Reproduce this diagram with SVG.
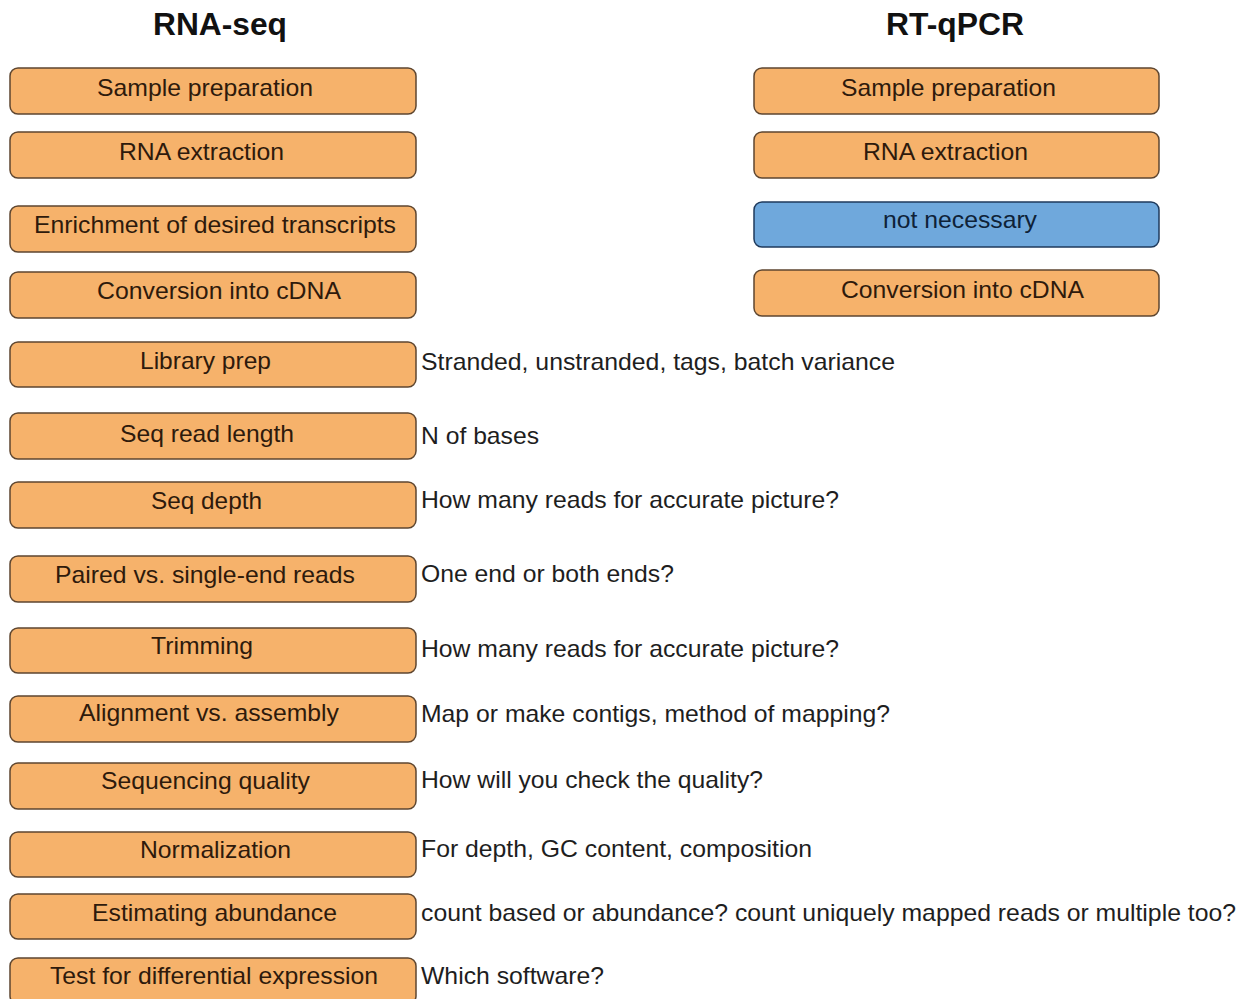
<svg xmlns="http://www.w3.org/2000/svg" width="1251" height="999" viewBox="0 0 1251 999">
<style>
.bg{fill:#ffffff}
.o{fill:#f6b26b;stroke:#5e4630;stroke-width:1.5}
.b{fill:#6fa8dc;stroke:#1f3a5c;stroke-width:1.5}
.t{font-family:"Liberation Sans",Arial,sans-serif;font-size:24px;fill:#2e1a0c}
.tb{font-family:"Liberation Sans",Arial,sans-serif;font-size:24px;fill:#0e2238}
.s{font-family:"Liberation Sans",Arial,sans-serif;font-size:24px;fill:#1e1e1e}
.h{font-family:"Liberation Sans",Arial,sans-serif;font-size:32px;font-weight:bold;fill:#111111}
</style>
<rect class="bg" x="0" y="0" width="1251" height="999"/>
<g id="titles">
<text class="h" x="153" y="35" textLength="134" lengthAdjust="spacingAndGlyphs">RNA-seq</text>
<text class="h" x="886" y="35" textLength="138" lengthAdjust="spacingAndGlyphs">RT-qPCR</text>
</g>
<g id="connectors"></g>
<g id="rnaseq-sample-prep"><rect class="o" x="10" y="68" width="406" height="46" rx="8"/><text class="t" x="97" y="96" textLength="216" lengthAdjust="spacingAndGlyphs">Sample preparation</text></g>
<g id="rnaseq-rna-extraction"><rect class="o" x="10" y="132" width="406" height="46" rx="8"/><text class="t" x="119" y="160" textLength="165" lengthAdjust="spacingAndGlyphs">RNA extraction</text></g>
<g id="rnaseq-enrichment"><rect class="o" x="10" y="206" width="406" height="46" rx="8"/><text class="t" x="34" y="233" textLength="362" lengthAdjust="spacingAndGlyphs">Enrichment of desired transcripts</text></g>
<g id="rnaseq-conversion"><rect class="o" x="10" y="272" width="406" height="46" rx="8"/><text class="t" x="97" y="299" textLength="244" lengthAdjust="spacingAndGlyphs">Conversion into cDNA</text></g>
<g id="library-prep"><rect class="o" x="10" y="342" width="406" height="45" rx="8"/><text class="t" x="140" y="369" textLength="131" lengthAdjust="spacingAndGlyphs">Library prep</text></g>
<g id="seq-read-length"><rect class="o" x="10" y="413" width="406" height="46" rx="8"/><text class="t" x="120" y="442" textLength="174" lengthAdjust="spacingAndGlyphs">Seq read length</text></g>
<g id="seq-depth"><rect class="o" x="10" y="482" width="406" height="46" rx="8"/><text class="t" x="151" y="509" textLength="111" lengthAdjust="spacingAndGlyphs">Seq depth</text></g>
<g id="paired-single"><rect class="o" x="10" y="556" width="406" height="46" rx="8"/><text class="t" x="55" y="583" textLength="300" lengthAdjust="spacingAndGlyphs">Paired vs. single-end reads</text></g>
<g id="trimming"><rect class="o" x="10" y="628" width="406" height="45" rx="8"/><text class="t" x="151" y="654" textLength="102" lengthAdjust="spacingAndGlyphs">Trimming</text></g>
<g id="alignment"><rect class="o" x="10" y="696" width="406" height="46" rx="8"/><text class="t" x="79" y="721" textLength="260" lengthAdjust="spacingAndGlyphs">Alignment vs. assembly</text></g>
<g id="seq-quality"><rect class="o" x="10" y="763" width="406" height="46" rx="8"/><text class="t" x="101" y="789" textLength="209" lengthAdjust="spacingAndGlyphs">Sequencing quality</text></g>
<g id="normalization"><rect class="o" x="10" y="832" width="406" height="45" rx="8"/><text class="t" x="140" y="858" textLength="151" lengthAdjust="spacingAndGlyphs">Normalization</text></g>
<g id="estimating-abundance"><rect class="o" x="10" y="894" width="406" height="45" rx="8"/><text class="t" x="92" y="921" textLength="245" lengthAdjust="spacingAndGlyphs">Estimating abundance</text></g>
<g id="differential-expression"><rect class="o" x="10" y="958" width="406" height="46" rx="8"/><text class="t" x="50" y="984" textLength="328" lengthAdjust="spacingAndGlyphs">Test for differential expression</text></g>
<g id="rtqpcr-sample-prep"><rect class="o" x="754" y="68" width="405" height="46" rx="8"/><text class="t" x="841" y="96" textLength="215" lengthAdjust="spacingAndGlyphs">Sample preparation</text></g>
<g id="rtqpcr-rna-extraction"><rect class="o" x="754" y="132" width="405" height="46" rx="8"/><text class="t" x="863" y="160" textLength="165" lengthAdjust="spacingAndGlyphs">RNA extraction</text></g>
<g id="rtqpcr-not-necessary"><rect class="b" x="754" y="202" width="405" height="45" rx="8"/><text class="tb" x="883" y="228" textLength="154" lengthAdjust="spacingAndGlyphs">not necessary</text></g>
<g id="rtqpcr-conversion"><rect class="o" x="754" y="270" width="405" height="46" rx="8"/><text class="t" x="841" y="298" textLength="243" lengthAdjust="spacingAndGlyphs">Conversion into cDNA</text></g>
<g id="notes">
<text class="s" x="421" y="370" textLength="474" lengthAdjust="spacingAndGlyphs">Stranded, unstranded, tags, batch variance</text>
<text class="s" x="421" y="444" textLength="118" lengthAdjust="spacingAndGlyphs">N of bases</text>
<text class="s" x="421" y="508" textLength="418" lengthAdjust="spacingAndGlyphs">How many reads for accurate picture?</text>
<text class="s" x="421" y="582" textLength="253" lengthAdjust="spacingAndGlyphs">One end or both ends?</text>
<text class="s" x="421" y="657" textLength="418" lengthAdjust="spacingAndGlyphs">How many reads for accurate picture?</text>
<text class="s" x="421" y="722" textLength="469" lengthAdjust="spacingAndGlyphs">Map or make contigs, method of mapping?</text>
<text class="s" x="421" y="788" textLength="342" lengthAdjust="spacingAndGlyphs">How will you check the quality?</text>
<text class="s" x="421" y="857" textLength="391" lengthAdjust="spacingAndGlyphs">For depth, GC content, composition</text>
<text class="s" x="421" y="921" textLength="815" lengthAdjust="spacingAndGlyphs">count based or abundance? count uniquely mapped reads or multiple too?</text>
<text class="s" x="421" y="984" textLength="183" lengthAdjust="spacingAndGlyphs">Which software?</text>
</g>
</svg>
